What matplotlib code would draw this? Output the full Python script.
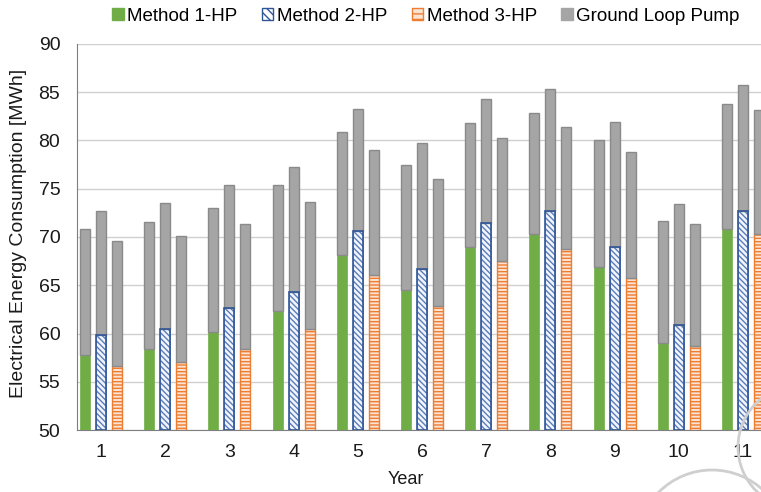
import numpy as np
import matplotlib
matplotlib.use("Agg")
import matplotlib.pyplot as plt
from matplotlib.patches import Patch, Circle

plt.rcParams['font.family'] = ['Liberation Sans', 'DejaVu Sans']
plt.rcParams['hatch.linewidth'] = 1.0

years = [1, 2, 3, 4, 5, 6, 7, 8, 9, 10, 11]

# heat pump part of each bar (MWh)
m1_hp = [57.8, 58.4, 60.2, 62.3, 68.1, 64.5, 69.0, 70.3, 66.9, 59.0, 70.8]
m2_hp = [59.8, 60.5, 62.6, 64.3, 70.6, 66.7, 71.5, 72.7, 69.0, 60.9, 72.7]
m3_hp = [56.6, 57.0, 58.4, 60.5, 66.1, 62.9, 67.5, 68.8, 65.8, 58.7, 70.3]

# bar totals incl. ground loop pump (MWh)
m1_total = [70.8, 71.6, 73.0, 75.4, 80.9, 77.5, 81.8, 82.9, 80.0, 71.7, 83.8]
m2_total = [72.7, 73.5, 75.4, 77.3, 83.3, 79.7, 84.3, 85.3, 81.9, 73.4, 85.7]
m3_total = [69.6, 70.1, 71.3, 73.6, 79.0, 76.0, 80.3, 81.4, 78.8, 71.3, 83.2]

x = np.array(years)
w = 0.155
off = 0.25
green = '#70AD47'
blue = '#2F5597'
blue_hatch = '#5A7DBA'
orange = '#ED7D31'
orange_face = '#FBE3D3'
grey = '#A5A5A5'
grey_edge = '#8A8A8A'
txt = '#1A1A1A'
base = 50

fig = plt.figure(figsize=(7.61, 4.92), dpi=100)
ax = fig.add_axes([0.1012, 0.126, 0.930, 0.7846])

# method 1 - solid green
hp = np.array(m1_hp)
ax.bar(x - off, hp - base, w, bottom=base, color=green, edgecolor=green, linewidth=0.5, zorder=3)
ax.bar(x - off, np.array(m1_total) - hp, w, bottom=hp, color=grey, edgecolor=grey_edge, linewidth=1.0, zorder=3)

# method 2 - lighter blue diagonal hatch, dark blue outline
hp = np.array(m2_hp)
ax.bar(x, hp - base, w, bottom=base, facecolor='#F2F5FB', edgecolor=blue_hatch,
       hatch='\\\\\\\\\\\\', linewidth=0.5, zorder=3)
ax.bar(x, hp - base, w, bottom=base, facecolor='none', edgecolor=blue, linewidth=1.2, zorder=4)
ax.bar(x, np.array(m2_total) - hp, w, bottom=hp, color=grey, edgecolor=grey_edge, linewidth=1.0, zorder=3)

# method 3 - orange horizontal hatch
hp = np.array(m3_hp)
ax.bar(x + off, hp - base, w, bottom=base, facecolor=orange_face, edgecolor=orange,
       hatch='-----', linewidth=1.0, zorder=3)
ax.bar(x + off, np.array(m3_total) - hp, w, bottom=hp, color=grey, edgecolor=grey_edge, linewidth=1.0, zorder=3)

ax.set_xlim(0.626, 0.626 + 0.930 * 761 / 64.2)
ax.set_ylim(50, 90)
ax.set_yticks(range(50, 91, 5))
ax.set_xticks(years)
ax.tick_params(length=0, labelsize=14, colors=txt)
ax.tick_params(axis='y', pad=12)
ax.tick_params(axis='x', pad=10)
ax.yaxis.grid(True, color='#D0D0D0', linewidth=1.0, zorder=0)
ax.set_axisbelow(True)
for s in ['top', 'right']:
    ax.spines[s].set_visible(False)
ax.spines['left'].set_color('#7F7F7F')
ax.spines['bottom'].set_color('#7F7F7F')
ax.set_xlabel('Year', fontsize=13, color=txt)
ax.set_ylabel('Electrical Energy Consumption [MWh]', fontsize=14, color=txt)
ax.xaxis.set_label_coords(0.465, -0.105)
ax.yaxis.set_label_coords(-0.07, 0.51)

handles = [
    Patch(facecolor=green, edgecolor=green, label='Method 1-HP'),
    Patch(facecolor='white', edgecolor=blue, hatch='\\\\\\\\', label='Method 2-HP'),
    Patch(facecolor=orange_face, edgecolor=orange, hatch='---', label='Method 3-HP'),
    Patch(facecolor=grey, edgecolor=grey, label='Ground Loop Pump'),
]
fig.legend(handles=handles, loc='upper center', bbox_to_anchor=(0.56, 1.018), ncol=4,
           frameon=False, fontsize=13.5, handlelength=0.6, handleheight=0.6,
           handletextpad=0.2, columnspacing=1.3)

# faint watermark arcs in the lower right corner (positions in inches)
fig.patches.append(Circle((8.00, 0.45), 0.62, transform=fig.dpi_scale_trans,
                          fill=False, edgecolor='#CFCFCF', linewidth=2.0, zorder=10))
fig.patches.append(Circle((7.12, -0.53), 0.75, transform=fig.dpi_scale_trans,
                          fill=False, edgecolor='#CFCFCF', linewidth=2.0, zorder=10))

fig.savefig('out.png', dpi=100)
